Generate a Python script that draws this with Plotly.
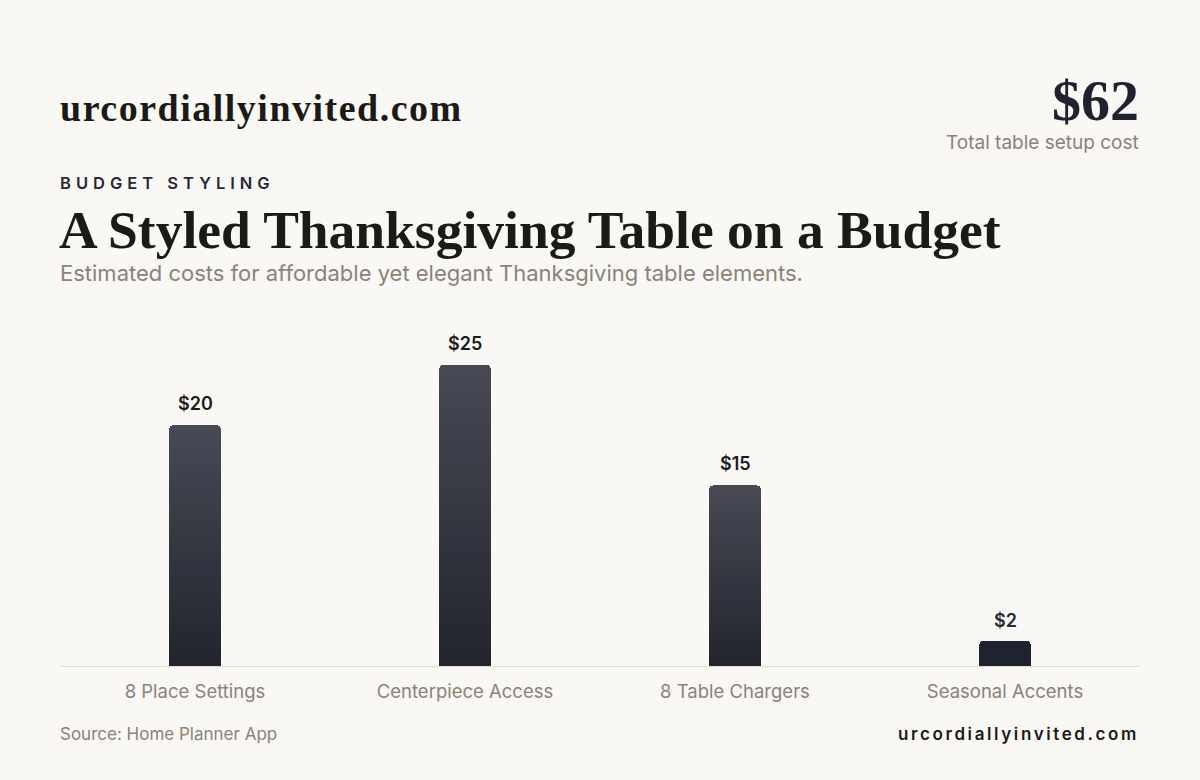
import plotly.graph_objects as go

categories = ["8 Place Settings", "Centerpiece Access", "8 Table Chargers", "Seasonal Accents"]
values = [20, 25, 15, 2]
value_labels = ["$20", "$25", "$15", "$2"]
total_label = "$62"

BG = "#f9f8f4"
TOP = (0x47, 0x49, 0x54)
BOT = (0x22, 0x25, 0x2e)
SOLID = "#1f2330"
N = 40

def mix(t):
    r = tuple(round(BOT[k] + (TOP[k] - BOT[k]) * t) for k in range(3))
    return "rgb(%d,%d,%d)" % r

fig = go.Figure()
for s in range(N):
    seg = [v / N for v in values]
    colors = [mix((s + 0.5) / N) for _ in values]
    colors[-1] = SOLID
    fig.add_trace(go.Bar(
        x=categories, y=seg, marker=dict(color=colors, line=dict(width=0)),
        showlegend=False, hoverinfo="skip", width=0.19,
    ))

label_colors = ["#1c1b1a", "#1c1b1a", "#1c1b1a", "#252836"]
for c, v, lab, col in zip(categories, values, value_labels, label_colors):
    fig.add_annotation(x=c, y=v, xref="x", yref="y", text=lab, showarrow=False,
                       yanchor="bottom", yshift=9,
                       font=dict(family="Inter", size=18, color=col, weight=600))

fig.update_layout(
    width=1200, height=780,
    paper_bgcolor=BG, plot_bgcolor=BG,
    barmode="stack", barcornerradius=4, bargap=0.8,
    margin=dict(l=60, r=60, t=320, b=114),
    xaxis=dict(showgrid=False, showline=True, linecolor="#e0ddd5", linewidth=1,
               tickfont=dict(family="Inter", size=18.5, color="#8b8279"), ticks="",
               ticklabelstandoff=9, fixedrange=True),
    yaxis=dict(range=[0, 28.74], showgrid=False, showticklabels=False, zeroline=False,
               fixedrange=True),
    font=dict(family="Inter"),
)

ann = [
    dict(text="urcordiallyinvited.com", x=58, y=108, xanchor="left", yanchor="middle",
         font=dict(family="Liberation Serif", size=38, color="#1c1a17", weight=700),
         style="letter-spacing:1.5px"),
    dict(text=total_label, x=1141, y=100, xanchor="right", yanchor="middle",
         font=dict(family="Liberation Serif", size=58, color="#1f2330", weight=700)),
    dict(text="Total table setup cost", x=1141, y=143, xanchor="right", yanchor="middle",
         font=dict(family="Inter", size=19, color="#8b8279")),
    dict(text="BUDGET STYLING", x=58, y=183, xanchor="left", yanchor="middle",
         font=dict(family="Inter", size=16.5, color="#252836", weight=600),
         style="letter-spacing:5px"),
    dict(text="A Styled Thanksgiving Table on a Budget", x=57, y=230, xanchor="left", yanchor="middle",
         font=dict(family="Liberation Serif", size=53.5, color="#1c1a17", weight=700)),
    dict(text="Estimated costs for affordable yet elegant Thanksgiving table elements.", x=58, y=273,
         xanchor="left", yanchor="middle",
         font=dict(family="Inter", size=22, color="#8b8279")),
    dict(text="Source: Home Planner App", x=58, y=734, xanchor="left", yanchor="middle",
         font=dict(family="Inter", size=17, color="#8b8279")),
    dict(text="urcordiallyinvited.com", x=1141, y=734, xanchor="right", yanchor="middle",
         font=dict(family="Inter", size=17, color="#1c1a17", weight=600),
         style="letter-spacing:2.6px"),
]
for a in ann:
    style = a.pop("style", None)
    if style:
        a["text"] = "<span style='%s'>%s</span>" % (style, a["text"])
    fig.add_annotation(xref="paper", yref="paper", showarrow=False, **{k: v for k, v in a.items() if k not in ("x", "y")},
                       x=(a["x"] - 60) / 1080, y=(780 - 114 - a["y"]) / (780 - 320 - 114))

fig.write_html("out.html")
